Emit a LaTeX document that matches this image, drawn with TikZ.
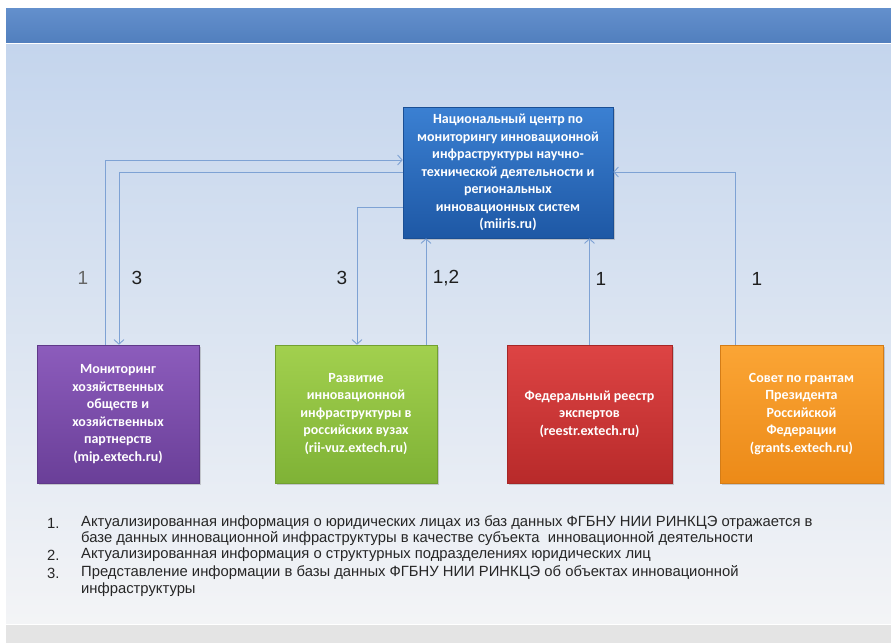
\documentclass[tikz,border=0pt]{standalone}
\usepackage{fontspec}
\setmainfont{Carlito}
\newfontfamily\labfont{Liberation Sans}
\usetikzlibrary{arrows.meta,shadows}
\definecolor{hdr}{HTML}{5686C8}
\definecolor{bgtop}{HTML}{C4D5ED}
\definecolor{bgmid}{HTML}{E3E9F2}
\definecolor{bgbot}{HTML}{F3F4F6}
\definecolor{greyband}{HTML}{E4E4E4}
\definecolor{conncol}{HTML}{7EA2D4}
\definecolor{blueT}{HTML}{3B80D2}\definecolor{blueB}{HTML}{1E58A5}
\definecolor{purT}{HTML}{8C5CBC}\definecolor{purB}{HTML}{6A3F98}
\definecolor{grnT}{HTML}{A2D04E}\definecolor{grnB}{HTML}{7FB236}
\definecolor{redT}{HTML}{DD4444}\definecolor{redB}{HTML}{B82A2A}
\definecolor{orT}{HTML}{FBA535}\definecolor{orB}{HTML}{EC8A18}
\tikzset{
  box/.style={rectangle, inner sep=0pt, align=center, text=white,
    font=\bfseries\fontsize{14}{17.5}\selectfont,
    drop shadow={shadow xshift=1.5pt, shadow yshift=-2pt, opacity=0.35}},
  conn/.style={draw=conncol, line width=0.9pt, -{Straight Barb[length=4.5pt,width=10pt]}},
  numlab/.style={font=\labfont\fontsize{19}{19}\selectfont, text=black!88, inner sep=0pt},
  note/.style={font=\labfont\fontsize{14.8}{16}\selectfont, text=black!85, inner sep=0pt, anchor=west}
}
\begin{document}
\begin{tikzpicture}[x=1pt,y=-1pt]
\useasboundingbox (0,0) rectangle (891,643);
\fill[white] (0,0) rectangle (891,643);
% header
\shade[top color=hdr!92!white, bottom color=hdr!95!black] (6,8) rectangle (891,42);
% background
\shade[top color=bgtop, middle color=bgmid, bottom color=bgbot] (6,44) rectangle (891,623);
\fill[greyband] (6,625) rectangle (891,643);
% boxes
\node[box, minimum width=210pt, minimum height=131pt, top color=blueT, bottom color=blueB, draw=blueB!90!black, line width=0.6pt] (center) at (508,172.5)
  {Национальный центр по\\мониторингу инновационной\\инфраструктуры научно-\\технической деятельности и\\региональных\\инновационных систем\\(miiris.ru)};
\node[box, minimum width=162pt, minimum height=138pt, top color=purT, bottom color=purB, draw=purB!90!black, line width=0.6pt] (mip) at (118,414)
  {Мониторинг\\хозяйственных\\обществ и\\хозяйственных\\партнерств\\(mip.extech.ru)};
\node[box, minimum width=162pt, minimum height=138pt, top color=grnT, bottom color=grnB, draw=grnB!90!black, line width=0.6pt] (vuz) at (356,414)
  {Развитие\\инновационной\\инфраструктуры в\\российских вузах\\(rii-vuz.extech.ru)};
\node[box, minimum width=165pt, minimum height=138pt, top color=redT, bottom color=redB, draw=redB!90!black, line width=0.6pt] (reestr) at (589.5,414)
  {Федеральный реестр\\экспертов\\(reestr.extech.ru)};
\node[box, minimum width=163pt, minimum height=138pt, top color=orT, bottom color=orB, draw=orB!90!black, line width=0.6pt] (grants) at (801.5,414)
  {Совет по грантам\\Президента\\Российской\\Федерации\\(grants.extech.ru)};
% connectors
\draw[conn] ([xshift=-13pt]mip.north) |- ([yshift=12.5pt]center.west);
\draw[conn] ([yshift=0.5pt]center.west) -| ([xshift=1pt]mip.north);
\draw[conn] ([yshift=-34.5pt]center.west) -| ([xshift=1pt]vuz.north);
\draw[conn] ([xshift=70pt]vuz.north) -- ([xshift=70pt]vuz.north |- center.south);
\draw[conn] (reestr.north) -- (reestr.north |- center.south);
\draw[conn] ([xshift=-66.5pt]grants.north) |- ([yshift=0.5pt]center.east);
% labels
\node[numlab, text=black!60] (la) at (83,278) {1};
\node[numlab] (lb) at (137,278) {3};
\node[numlab] (lc) at (342,278) {3};
\node[numlab] (ld) at (446,278) {1,2};
\node[numlab] (le) at (601,279) {1};
\node[numlab] (lf) at (757,279) {1};
% notes
\node[note] (n1) at (47,523) {1.};
\node[note] (t1a) at (81,523) {Актуализированная информация о юридических лицах из баз данных ФГБНУ НИИ РИНКЦЭ отражается в};
\node[note] (t1b) at (81,539) {базе данных инновационной инфраструктуры в качестве субъекта\ \ инновационной деятельности};
\node[note] (n2) at (47,555) {2.};
\node[note] (t2) at (81,555) {Актуализированная информация о структурных подразделениях юридических лиц};
\node[note] (n3) at (47,573) {3.};
\node[note] (t3a) at (81,573) {Представление информации в базы данных ФГБНУ НИИ РИНКЦЭ об объектах инновационной};
\node[note] (t3b) at (81,590) {инфраструктуры};
\end{tikzpicture}
\end{document}
